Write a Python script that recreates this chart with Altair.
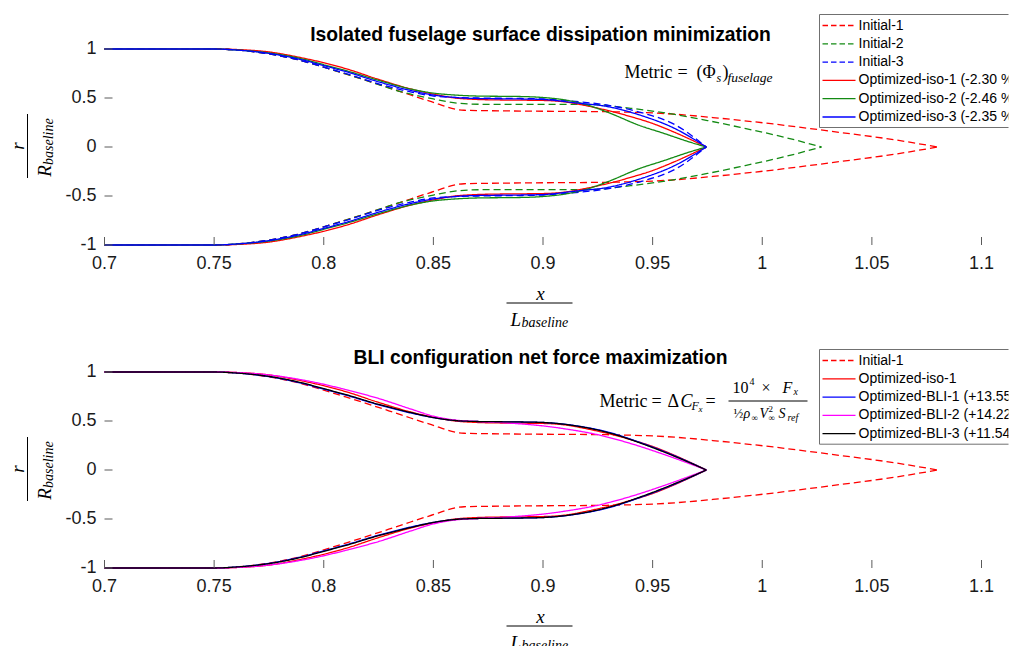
import altair as alt
import pandas as pd

# ---------------- data (upper contour r(x); the body is axisymmetric) ----------------
init1_x = [0.70, 0.75, 0.775, 0.79, 0.80, 0.81, 0.82, 0.835, 0.848, 0.864, 0.90, 0.929, 0.96, 0.98, 1.005, 1.035, 1.06, 1.08]
init1_r = [1.00, 1.00, 0.95, 0.88, 0.815, 0.745, 0.675, 0.565, 0.47, 0.375, 0.365, 0.36, 0.335, 0.295, 0.235, 0.15, 0.075, 0.0]

init2_x = [0.70, 0.75, 0.775, 0.79, 0.80, 0.81, 0.82, 0.835, 0.85, 0.862, 0.875, 0.921, 0.94, 0.958, 0.975, 0.99, 1.01, 1.027]
init2_r = [1.00, 1.00, 0.95, 0.88, 0.815, 0.745, 0.675, 0.565, 0.49, 0.445, 0.435, 0.435, 0.395, 0.34, 0.27, 0.20, 0.10, 0.0]

init3_x = [0.70, 0.75, 0.775, 0.79, 0.80, 0.81, 0.825, 0.84, 0.85, 0.86, 0.87, 0.89, 0.90, 0.915, 0.93, 0.945, 0.96, 0.9745]
init3_r = [1.00, 1.00, 0.95, 0.88, 0.815, 0.75, 0.645, 0.56, 0.52, 0.505, 0.50, 0.495, 0.49, 0.465, 0.425, 0.35, 0.23, 0.0]

iso1_x = [0.70, 0.75, 0.76, 0.775, 0.79, 0.80, 0.81, 0.825, 0.84, 0.85, 0.86, 0.87, 0.88, 0.90, 0.91, 0.92, 0.93, 0.94, 0.95, 0.96, 0.9745]
iso1_r = [1.00, 1.00, 0.995, 0.97, 0.91, 0.86, 0.80, 0.69, 0.59, 0.54, 0.50, 0.485, 0.48, 0.475, 0.46, 0.42, 0.37, 0.31, 0.24, 0.15, 0.0]

iso2_x = [0.70, 0.75, 0.76, 0.775, 0.79, 0.80, 0.81, 0.825, 0.84, 0.85, 0.86, 0.87, 0.89, 0.90, 0.91, 0.92, 0.93, 0.944, 0.955, 0.967, 0.9745]
iso2_r = [1.00, 1.00, 0.99, 0.96, 0.90, 0.84, 0.78, 0.68, 0.59, 0.55, 0.53, 0.52, 0.515, 0.505, 0.48, 0.43, 0.35, 0.22, 0.14, 0.05, 0.0]

iso3_x = [0.70, 0.75, 0.76, 0.775, 0.79, 0.80, 0.81, 0.825, 0.84, 0.85, 0.86, 0.87, 0.89, 0.90, 0.915, 0.93, 0.945, 0.96, 0.9745]
iso3_r = [1.00, 1.00, 0.99, 0.955, 0.89, 0.83, 0.77, 0.665, 0.575, 0.53, 0.505, 0.495, 0.49, 0.485, 0.45, 0.41, 0.32, 0.19, 0.0]

bli1_x = [0.70, 0.75, 0.76, 0.775, 0.79, 0.80, 0.81, 0.825, 0.84, 0.85, 0.86, 0.87, 0.89, 0.90, 0.915, 0.93, 0.945, 0.96, 0.9745]
bli1_r = [1.00, 1.00, 0.99, 0.953, 0.885, 0.825, 0.765, 0.665, 0.58, 0.535, 0.505, 0.495, 0.49, 0.485, 0.452, 0.385, 0.275, 0.145, 0.0]

bli2_x = [0.70, 0.75, 0.76, 0.775, 0.79, 0.80, 0.81, 0.825, 0.84, 0.85, 0.86, 0.87, 0.88, 0.89, 0.90, 0.91, 0.925, 0.94, 0.955, 0.9745]
bli2_r = [1.00, 1.00, 0.995, 0.97, 0.92, 0.875, 0.82, 0.73, 0.62, 0.55, 0.51, 0.495, 0.485, 0.47, 0.45, 0.42, 0.36, 0.27, 0.16, 0.0]

bli3_x = [0.70, 0.75, 0.76, 0.775, 0.79, 0.80, 0.81, 0.825, 0.84, 0.85, 0.86, 0.87, 0.89, 0.90, 0.915, 0.93, 0.945, 0.96, 0.9745]
bli3_r = [1.00, 1.00, 0.99, 0.955, 0.89, 0.83, 0.77, 0.67, 0.585, 0.535, 0.505, 0.495, 0.49, 0.485, 0.45, 0.38, 0.27, 0.14, 0.0]

top_names = ["Initial-1", "Initial-2", "Initial-3",
             "Optimized-iso-1 (-2.30 %)", "Optimized-iso-2 (-2.46 %)", "Optimized-iso-3 (-2.35 %)"]
top_shapes = [(init1_x, init1_r), (init2_x, init2_r), (init3_x, init3_r),
              (iso1_x, iso1_r), (iso2_x, iso2_r), (iso3_x, iso3_r)]
top_colors = ["#ff0000", "#138a13", "#0000ff", "#ff0000", "#138a13", "#0000ff"]

bot_names = ["Initial-1", "Optimized-iso-1", "Optimized-BLI-1 (+13.55)",
             "Optimized-BLI-2 (+14.22)", "Optimized-BLI-3 (+11.54)"]
bot_shapes = [(init1_x, init1_r), (iso1_x, iso1_r), (bli1_x, bli1_r),
              (bli2_x, bli2_r), (bli3_x, bli3_r)]
bot_colors = ["#ff0000", "#ff0000", "#0000ff", "#ff00ff", "#000000"]

x_ticks = [0.7, 0.75, 0.8, 0.85, 0.9, 0.95, 1.0, 1.05, 1.1]
x_labels = ["0.7", "0.75", "0.8", "0.85", "0.9", "0.95", "1", "1.05", "1.1"]
y_ticks = [-1, -0.5, 0, 0.5, 1]
y_labels = ["-1", "-0.5", "0", "0.5", "1"]

DASH = [7, 4]
LEG_DASH = [5.5, 3]
SOLID = [1, 0]

X0 = 105          # page x of the plot's left edge
PW = 877          # plot width (0.7 .. 1.1)
VW = 904          # view width (room for the clipped legend on the right)
PH = 196          # plot height (-1 .. 1)
SANS = "Liberation Sans"
SERIF = "Liberation Serif"
GRAY = "#5a5a5a"


def contour_frame(names, shapes):
    rows = []
    for name, (xs, rs) in zip(names, shapes):
        for x, r in zip(xs, rs):
            rows.append({"series": name, "side": "upper", "x": x, "r": r})
            rows.append({"series": name, "side": "lower", "x": x, "r": -r})  # mirror side
    return pd.DataFrame(rows)


one = pd.DataFrame({"k": [0]})


def panel(names, shapes, colors, title, oy, plot_top, metric):
    """oy: page y of the view's top edge; plot_top: offset of the plot inside the view."""
    VH = plot_top + PH
    X = lambda v: v - X0          # page x -> view x
    Y = lambda v: v - oy          # page y -> view y
    sh = (oy + plot_top) - 48     # vertical shift relative to the top panel's layout

    def txt(t, x, y, size, font=SERIF, italic=False, angle=0, align="left",
            weight="normal", clip=False, color="#000000"):
        kw = dict(text=t, font=font, fontSize=size, align=align, baseline="middle",
                  color=color, fontWeight=weight)
        if italic:
            kw["fontStyle"] = "italic"
        if angle:
            kw["angle"] = angle
        if clip:
            kw["clip"] = True
        return alt.Chart(one).mark_text(**kw).encode(x=alt.value(X(x)), y=alt.value(Y(y)))

    def hbar(x1, x2, y, color="#000000", dash=None, width=1.0, clip=False):
        kw = dict(color=color, strokeWidth=width)
        if dash:
            kw["strokeDash"] = dash
        if clip:
            kw["clip"] = True
        return alt.Chart(one).mark_rule(**kw).encode(
            x=alt.value(X(x1)), x2=alt.value(X(x2)), y=alt.value(Y(y)))

    def vbar(x, y1, y2):
        return alt.Chart(one).mark_rule(color="#000000", strokeWidth=1).encode(
            x=alt.value(X(x)), y=alt.value(Y(y1)), y2=alt.value(Y(y2)))

    df = contour_frame(names, shapes)
    dashes = [DASH if n.startswith("Initial") else SOLID for n in names]
    xs = alt.Scale(domain=[0.7, 1.1], range=[0, PW], nice=False, zero=False)
    ys = alt.Scale(domain=[-1, 1], range=[VH, plot_top], nice=False, zero=False)
    lines = alt.Chart(df).mark_line(strokeWidth=1.3, interpolate="monotone").encode(
        x=alt.X("x:Q", scale=xs, axis=alt.Axis(
            values=x_ticks, labels=False, title=None, ticks=False, grid=False, domainColor=GRAY)),
        y=alt.Y("r:Q", scale=ys, axis=alt.Axis(
            values=y_ticks, labels=False, title=None, ticks=False, grid=False, domainColor=GRAY)),
        color=alt.Color("series:N", scale=alt.Scale(domain=names, range=colors), legend=None),
        strokeDash=alt.StrokeDash("series:N", scale=alt.Scale(domain=names, range=dashes), legend=None),
        detail="side:N",
    )
    xdf = pd.DataFrame({"t": x_ticks, "lab": x_labels})
    ydf = pd.DataFrame({"t": y_ticks, "lab": y_labels})
    # inward tick marks
    xt = alt.Chart(xdf).mark_rule(color=GRAY).encode(
        x=alt.X("t:Q", scale=xs, axis=None), y=alt.value(VH), y2=alt.value(VH - 8))
    yt = alt.Chart(ydf).mark_rule(color=GRAY).encode(
        y=alt.Y("t:Q", scale=ys, axis=None), x=alt.value(0), x2=alt.value(8))
    # tick labels
    xl = alt.Chart(xdf).mark_text(font=SANS, fontSize=18, color="#1a1a1a", baseline="middle",
                                  align="center").encode(
        x=alt.X("t:Q", scale=xs, axis=None), y=alt.value(VH + 19), text="lab:N")
    yl = alt.Chart(ydf).mark_text(font=SANS, fontSize=18, color="#1a1a1a", baseline="middle",
                                  align="right").encode(
        y=alt.Y("t:Q", scale=ys, axis=None), x=alt.value(-8), text="lab:N")

    layers = [lines, xt, yt, xl, yl]
    # title
    layers.append(txt(title, 541, 34 + sh, 19.3, font=SANS, weight="bold", align="center"))
    # axis titles written as fractions
    layers += [
        txt("x", 541, 293 + sh, 19, italic=True, align="center"),
        hbar(507, 573, 302 + sh),
        txt("L", 511, 319 + sh, 19, italic=True),
        txt("baseline", 522, 322 + sh, 14, italic=True),
        txt("r", 18, 145 + sh, 19, italic=True, angle=270, align="center"),
        vbar(28, 113 + sh, 177 + sh),
        txt("R", 45, 170 + sh, 19, italic=True, angle=270, align="center"),
        txt("baseline", 49, 164 + sh, 14, italic=True, angle=270),
    ]
    layers += metric(txt, hbar)

    # legend box (cut by the right edge of the figure, as in the original)
    top_y = oy
    box_h = 22 + (len(names) - 1) * 18.3
    layers.append(alt.Chart(one).mark_rect(fill="#ffffff", stroke="#707070", strokeWidth=1,
                                           clip=True).encode(
        x=alt.value(X(820)), x2=alt.value(X(1060)),
        y=alt.value(Y(top_y + 0.5)), y2=alt.value(Y(top_y + box_h))))
    for i, (n, c, d) in enumerate(zip(names, colors, dashes)):
        yy = top_y + 11.5 + i * 18.3
        layers.append(hbar(823, 856, yy, color=c, dash=LEG_DASH if d == DASH else None,
                           width=1.3, clip=True))
        layers.append(txt(n, 859, yy, 14, font=SANS, clip=True))

    return alt.layer(*layers).properties(width=VW, height=VH)


def top_metric(txt, hbar):
    return [
        txt("Metric", 625, 72, 18),
        txt("=", 678, 72, 18),
        txt("(", 697, 72, 18),
        txt("Φ", 703, 72, 18),
        txt("s", 717, 77, 12, italic=True),
        txt(")", 723, 72, 18),
        txt("fuselage", 728, 77, 13.5, italic=True),
    ]


def bot_metric(txt, hbar):
    return [
        txt("Metric", 600, 401, 18),
        txt("=", 652, 401, 18),
        txt("Δ", 668, 401, 18),
        txt("C", 681, 401, 18, italic=True),
        txt("F", 692, 405, 12, italic=True),
        txt("x", 699, 408, 9, italic=True),
        txt("=", 706, 401, 18),
        txt("10", 733, 387, 16),
        txt("4", 750, 381, 10),
        txt("×", 762, 387, 16),
        txt("F", 783, 387, 16, italic=True),
        txt("x", 794, 391, 10, italic=True),
        hbar(729, 808, 400),
        txt("½", 734, 413, 13),
        txt("ρ", 744, 413, 14, italic=True),
        txt("∞", 752, 417, 9),
        txt("V", 760, 413, 14, italic=True),
        txt("2", 769, 408, 9),
        txt("∞", 769, 417, 9),
        txt("S", 779, 413, 14, italic=True),
        txt("ref", 788, 417, 10, italic=True),
    ]


top = panel(top_names, top_shapes, top_colors,
            "Isolated fuselage surface dissipation minimization", 13, 35, top_metric)
bottom = panel(bot_names, bot_shapes, bot_colors,
               "BLI configuration net force maximization", 348, 23, bot_metric)

chart = alt.vconcat(top, bottom, spacing=348 - (13 + 35 + PH), bounds="flush").resolve_scale(
    color="independent", strokeDash="independent"
).properties(
    padding={"left": 0.5, "top": 6, "right": 0, "bottom": 0},
    background="#ffffff",
).configure_view(strokeWidth=0)

chart.save("out.html", embed_options={"renderer": "svg", "actions": False})
